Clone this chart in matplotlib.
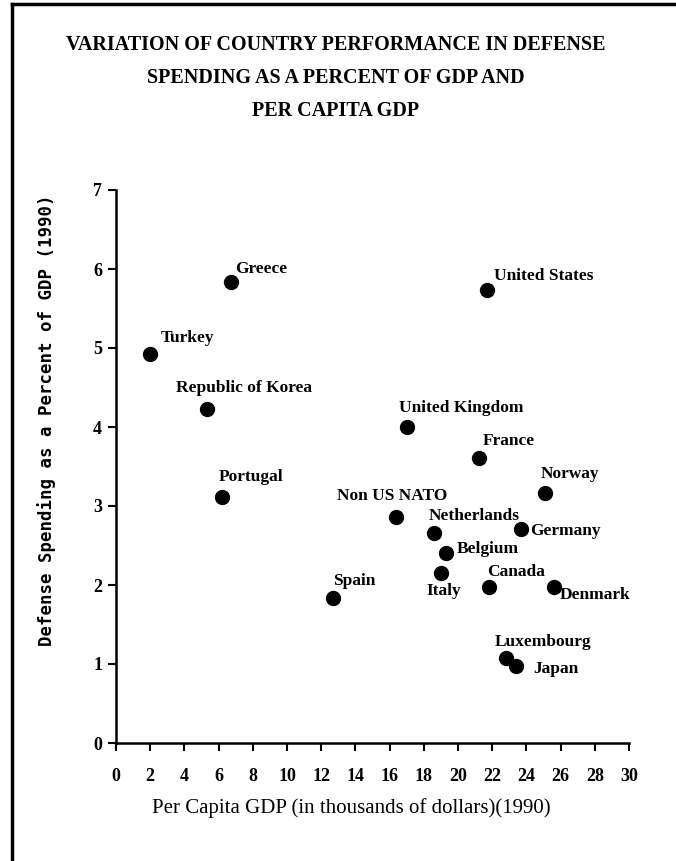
import matplotlib.pyplot as plt
from matplotlib.lines import Line2D

# data (per capita GDP in $1000s, defense % of GDP)
countries = ['Turkey', 'Greece', 'Republic of Korea', 'Portugal',
             'United States', 'United Kingdom', 'France', 'Norway',
             'Non US NATO', 'Netherlands', 'Germany', 'Belgium',
             'Canada', 'Italy', 'Spain', 'Denmark', 'Luxembourg', 'Japan']
gdp = [2.0, 6.7, 5.3, 6.2,
       21.7, 17.0, 21.2, 25.1,
       16.4, 18.6, 23.7, 19.3,
       21.8, 19.0, 12.7, 25.6, 22.8, 23.4]
defense = [4.93, 5.84, 4.23, 3.11,
           5.74, 4.00, 3.61, 3.16,
           2.86, 2.66, 2.71, 2.40,
           1.98, 2.15, 1.83, 1.97, 1.08, 0.97]

x_ticks = list(range(0, 31, 2))
y_ticks = list(range(0, 8))

# label offsets in pixels (dx, dy) from each dot
offsets = {
    'Turkey': (10, 16), 'Greece': (5, 13), 'Republic of Korea': (-31, 21),
    'Portugal': (-3, 20), 'United States': (7, 14), 'United Kingdom': (-8, 19),
    'France': (4, 17), 'Norway': (-5, 19), 'Non US NATO': (-59, 21),
    'Netherlands': (-5, 17), 'Germany': (9, -2), 'Belgium': (11, 4),
    'Canada': (-2, 15), 'Italy': (-14, -18), 'Spain': (0, 17),
    'Denmark': (6, -8), 'Luxembourg': (-11, 16), 'Japan': (17, -3),
}

serif = 'Liberation Serif'


def main():
    W, H = 676, 861
    fig = plt.figure(figsize=(W / 100, H / 100), dpi=100)
    ax = fig.add_axes([116 / W, 1 - 743 / H, 513 / W, 553 / H])

    ax.plot(gdp, defense, 'o', color='black', markersize=10)
    for name, x, y in zip(countries, gdp, defense):
        ax.annotate(name, (x, y), xytext=offsets[name],
                    textcoords='offset pixels', ha='left', va='center',
                    family=serif, weight='bold', fontsize=12.5)

    ax.set_xlim(0, 30)
    ax.set_ylim(0, 7)
    ax.set_xticks(x_ticks)
    ax.set_yticks(y_ticks)
    ax.spines['top'].set_visible(False)
    ax.spines['right'].set_visible(False)
    for s in ('left', 'bottom'):
        ax.spines[s].set_linewidth(1.8)
    ax.tick_params(width=1.5, length=6, labelsize=13)
    for lab in ax.get_xticklabels() + ax.get_yticklabels():
        lab.set_family(serif)
        lab.set_weight('bold')
    ax.tick_params(axis='x', pad=12)
    ax.tick_params(axis='y', pad=4)

    title = ['VARIATION OF COUNTRY PERFORMANCE IN DEFENSE',
             'SPENDING AS A PERCENT OF GDP AND',
             'PER CAPITA GDP']
    for i, line in enumerate(title):
        fig.text(336 / W, 1 - (45 + 33 * i) / H, line, ha='center',
                 va='center', family=serif, weight='bold', fontsize=14.5)

    fig.text(47 / W, 1 - 420 / H, 'Defense Spending as a Percent of GDP (1990)',
             rotation=90, ha='center', va='center', family='DejaVu Sans Mono',
             weight='bold', fontsize=12.5)
    fig.text(351 / W, 1 - 808 / H, 'Per Capita GDP (in thousands of dollars)(1990)',
             ha='center', va='center', family=serif, fontsize=15)

    # page frame: left and top border
    fig.add_artist(Line2D([12 / W, 12 / W], [0, 1 - 4 / H], color='black',
                          lw=2.5, transform=fig.transFigure))
    fig.add_artist(Line2D([12 / W, 1], [1 - 4 / H, 1 - 4 / H], color='black',
                          lw=2.5, transform=fig.transFigure))

    fig.savefig('out.png', dpi=100)


if __name__ == "__main__":
    main()
